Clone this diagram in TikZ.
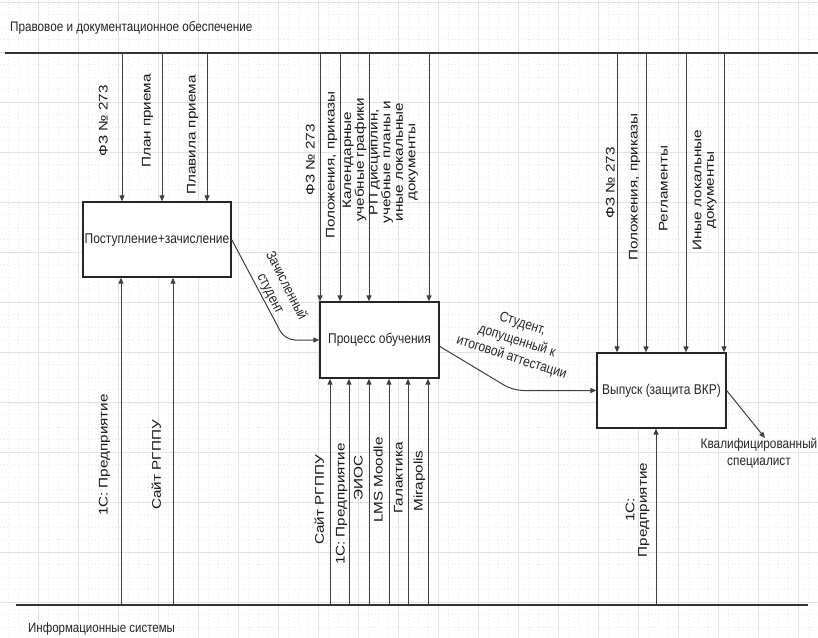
\documentclass[tikz,border=0pt]{standalone}
\usepackage{fontspec}
\setmainfont{Liberation Sans}
\usepackage{graphicx}
\usetikzlibrary{arrows.meta}

\newcommand{\vtxt}[1]{\scalebox{1.22}[1]{\begin{tabular}{@{}c@{}}#1\end{tabular}}}
\newcommand{\htxt}[1]{\scalebox{1}[1.18]{\begin{tabular}{@{}c@{}}#1\end{tabular}}}

\begin{document}
\begin{tikzpicture}[x = 1pt, y = -1pt,
  gridmaj/.style = {gray!22, line width = 0.6pt},
  gridmin/.style = {gray!16, line width = 0.5pt, dash pattern = on 1pt off 2.5pt},
  rule/.style = {black!80, line width = 1.4pt},
  arr/.style = {black!75, line width = 1pt, -{Triangle[length = 6pt, width = 5pt]}},
  box/.style = {draw = black!85, line width = 1.3pt, fill = white, inner sep = 0pt,
    text = black!85, font = \fontsize{12}{15}\selectfont},
  vlab/.style = {rotate = 90, inner sep = 0pt, text = black!90,
    font = \fontsize{12.5}{12.5}\selectfont},
  lab/.style = {inner sep = 0pt, text = black!85,
    font = \fontsize{12}{15}\selectfont}]
\useasboundingbox (0, 0) rectangle (818, 637);
\fill[white] (0, 0) rectangle (818, 637);
% background grid
\foreach \gx in {8, 18, ..., 818} \draw[gridmin] (\gx, 0) -- (\gx, 637);
\foreach \gy in {14.5, 27, ..., 637} \draw[gridmin] (0, \gy) -- (818, \gy);
\foreach \gx in {38, 78, ..., 818} \draw[gridmaj] (\gx, 0) -- (\gx, 637);
\foreach \gy in {2, 52, ..., 637} \draw[gridmaj] (0, \gy) -- (818, \gy);

\node[lab, anchor = west, font = \fontsize{11.7}{14}\selectfont] (toptitle) at (10, 28)
  {\htxt{Правовое и документационное обеспечение}};
\node[lab, anchor = west, font = \fontsize{11.5}{14}\selectfont] (bottitle) at (28, 629)
  {\htxt{Информационные системы}};
\coordinate (topL) at (5, 53);
\coordinate (topR) at (818, 53);
\coordinate (botL) at (16, 605);
\coordinate (botR) at (808, 605);
\draw[rule] (topL) -- (topR);
\draw[rule] (botL) -- (botR);

\node[box, minimum width = 148pt, minimum height = 75pt] (b1) at (157, 239.5) {\htxt{Поступление+зачисление}};
\node[box, minimum width = 119pt, minimum height = 76pt] (b2) at (379.5, 340) {\htxt{Процесс обучения}};
\node[box, minimum width = 129pt, minimum height = 75pt] (b3) at (661.5, 390.5) {\htxt{Выпуск (защита ВКР)}};

% box 1
\foreach \x [count = \i] in {122, 162, 207} {
  \coordinate (a\i) at (\x, 53);
  \draw[arr] (a\i) -- (a\i |- b1.north);}
\foreach \x [count = \i] in {121, 173} {
  \coordinate (m\i) at (\x, 605);
  \draw[arr] (m\i) -- (m\i |- b1.south);}
\node[vlab] (a1lab) at (105, 121) {\vtxt{ФЗ № 273}};
\node[vlab] (a2lab) at (148, 121) {\vtxt{План приема}};
\node[vlab] (a3lab) at (193, 135) {\vtxt{Плавила приема}};
\node[vlab] (m1lab) at (105, 455) {\vtxt{1С:\ Предприятие}};
\node[vlab] (m2lab) at (158, 465) {\vtxt{Сайт РГППУ}};

% box 2
\foreach \x [count = \i] in {320, 340, 369, 429} {
  \coordinate (c\i) at (\x, 53);
  \draw[arr] (c\i) -- (c\i |- b2.north);}
\foreach \x [count = \i] in {330, 349, 369, 389, 408, 428} {
  \coordinate (s\i) at (\x, 605);
  \draw[arr] (s\i) -- (s\i |- b2.south);}
\node[vlab] (c1lab) at (312, 160) {\vtxt{ФЗ № 273}};
\node[vlab] (c2lab) at (332, 165) {\vtxt{Положения, приказы}};
\node[vlab] (c3lab) at (355, 160) {\vtxt{Календарные\\учебные графики}};
\node[vlab] (c4lab) at (394, 162) {\vtxt{РП дисциплин,\\учебные планы и\\иные локальные\\документы}};
\node[vlab] (s1lab) at (321, 500) {\vtxt{Сайт РГППУ}};
\node[vlab] (s2lab) at (342, 504) {\vtxt{1С: Предприятие}};
\node[vlab] (s3lab) at (360, 478) {\vtxt{ЭИОС}};
\node[vlab] (s4lab) at (380, 480) {\vtxt{LMS Moodle}};
\node[vlab] (s5lab) at (400, 478) {\vtxt{Галактика}};
\node[vlab] (s6lab) at (420, 481) {\vtxt{Mirapolis}};

% box 3
\foreach \x [count = \i] in {617, 646, 686, 724} {
  \coordinate (e\i) at (\x, 53);
  \draw[arr] (e\i) -- (e\i |- b3.north);}
\coordinate (f1) at (656, 605);
\draw[arr] (f1) -- (f1 |- b3.south);
\node[vlab] (e1lab) at (612, 183) {\vtxt{ФЗ № 273}};
\node[vlab] (e2lab) at (635, 187) {\vtxt{Положения, приказы}};
\node[vlab] (e3lab) at (665, 189) {\vtxt{Регламенты}};
\node[vlab] (e4lab) at (705, 190) {\vtxt{Иные локальные\\документы}};
\node[vlab] (f1lab) at (638, 510) {\vtxt{1С:\\Предприятие}};

% flow between boxes
\coordinate (k1) at (285, 340);
\coordinate (k2) at (513, 390.5);
\coordinate (outend) at (765, 438);
\draw[arr, rounded corners = 10pt] (b1.east) -- (k1) -- (b2.west);
\draw[arr, rounded corners = 10pt] (b2.-6) -- (k2) -- (b3.west);
\draw[arr] (b3.east) -- (outend);
\node[lab, rotate = -63] (k1lab) at (278, 290) {\htxt{Зачисленный\\студент}};
\node[lab, rotate = -18] (k2lab) at (517, 341) {\htxt{Студент,\\допущенный к\\итоговой аттестации}};
\node[lab, font = \fontsize{11.8}{14.5}\selectfont] (outlab) at (759, 454) {\htxt{Квалифицированный\\специалист}};
\end{tikzpicture}
\end{document}
